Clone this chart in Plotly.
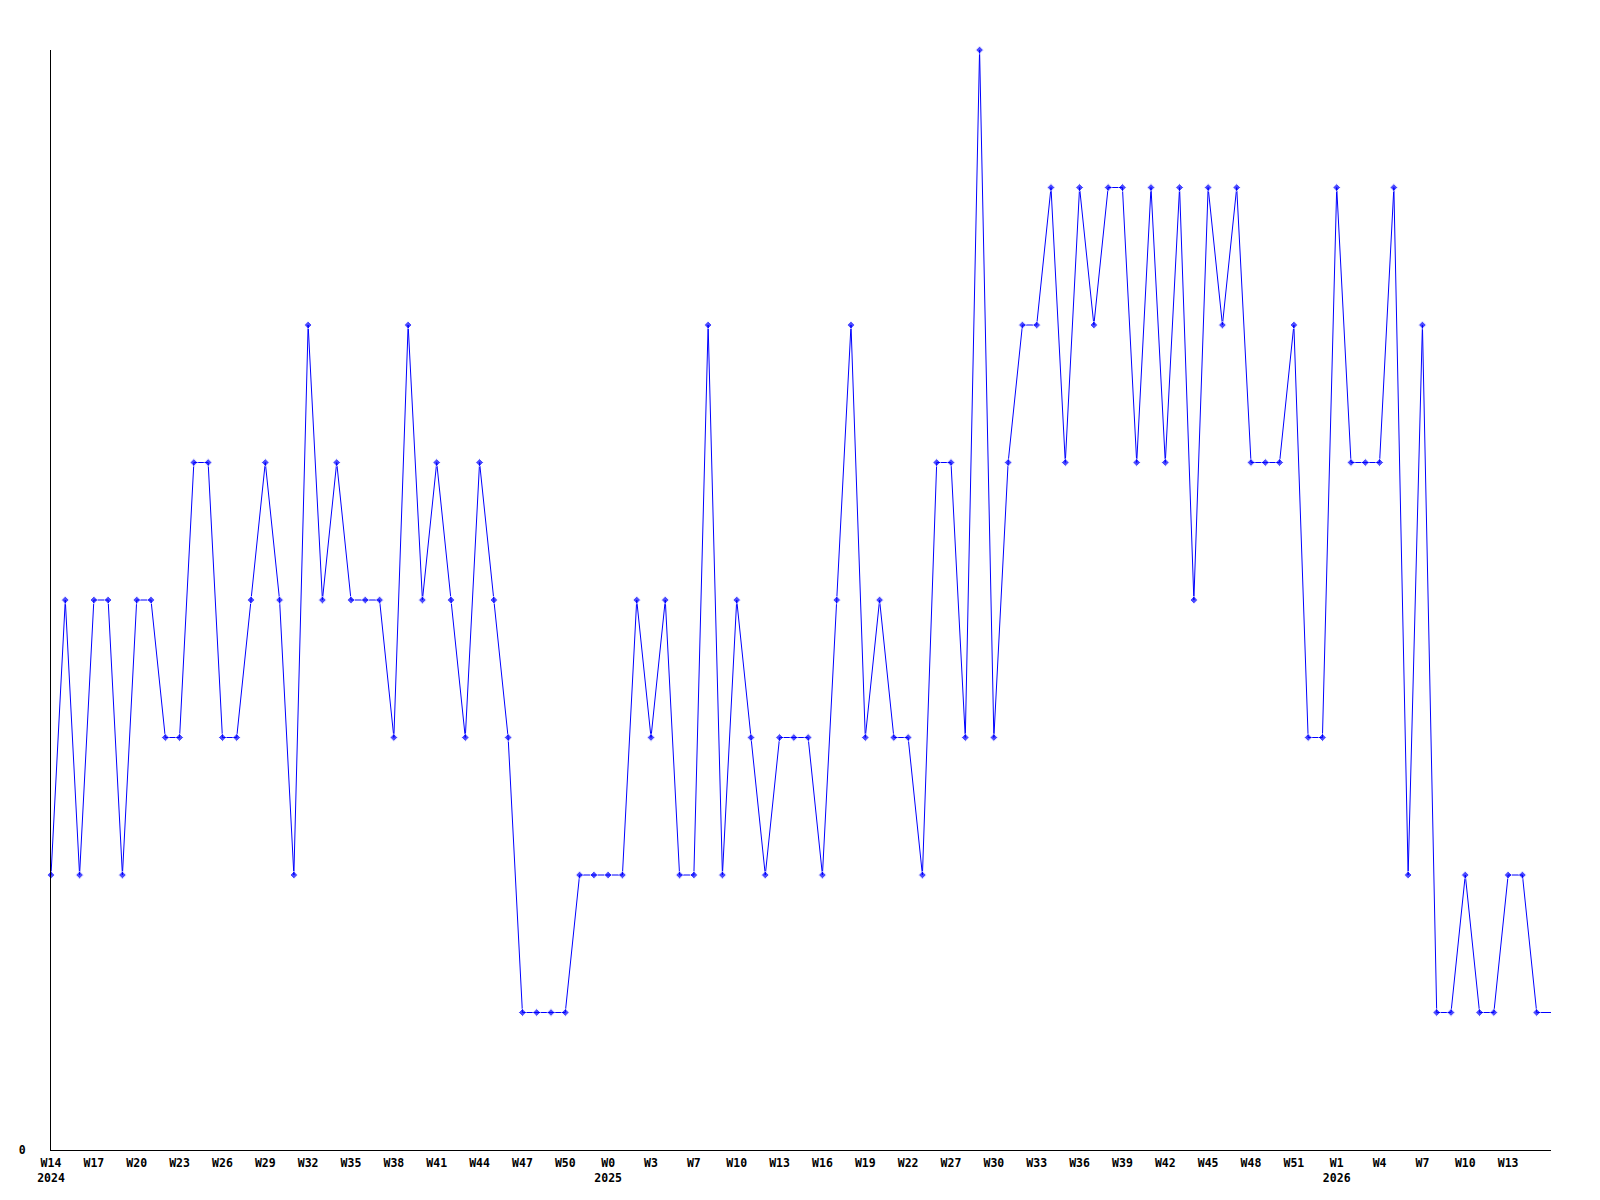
import plotly.graph_objects as go

# Weekly values (one per point, left to right)
values = [2, 4, 2, 4, 4, 2, 4, 4, 3, 3,
          5, 5, 3, 3, 4, 5, 4, 2, 6, 4,
          5, 4, 4, 4, 3, 6, 4, 5, 4, 3,
          5, 4, 3, 1, 1, 1, 1, 2, 2, 2,
          2, 4, 3, 4, 2, 2, 6, 2, 4, 3,
          2, 3, 3, 3, 2, 4, 6, 3, 4, 3,
          3, 2, 5, 5, 3, 8, 3, 5, 6, 6,
          7, 5, 7, 6, 7, 7, 5, 7, 5, 7,
          4, 7, 6, 7, 5, 5, 5, 6, 3, 3,
          7, 5, 5, 5, 7, 2, 6, 1, 1, 2,
          1, 1, 2, 2, 1, 1]

# Tick labels, one every third point
tick_labels = ["W14<br>2024", "W17", "W20", "W23", "W26", "W29", "W32", "W35",
               "W38", "W41", "W44", "W47", "W50", "W0<br>2025", "W3", "W7",
               "W10", "W13", "W16", "W19", "W22", "W27", "W30", "W33", "W36",
               "W39", "W42", "W45", "W48", "W51", "W1<br>2026", "W4", "W7",
               "W10", "W13"]

x = list(range(len(values)))
tick_pos = list(range(0, 3 * len(tick_labels), 3))
marker_sizes = [6] * (len(values) - 1) + [0]

fig = go.Figure()
fig.add_trace(go.Scatter(
    x=x, y=values, mode="lines+markers",
    line=dict(color="#0000ff", width=1),
    marker=dict(symbol="diamond", size=marker_sizes, color="#0000ff"),
    cliponaxis=False, showlegend=False,
))

font = dict(family="DejaVu Sans Mono", size=11.5, color="black", weight="bold")
fig.update_layout(
    width=1584, height=1184,
    margin=dict(l=43, r=41, t=42, b=42, autoexpand=False),
    paper_bgcolor="white", plot_bgcolor="white",
    xaxis=dict(range=[0, len(values) - 1], tickvals=tick_pos, ticktext=tick_labels,
               showgrid=False, zeroline=False, showline=True, linecolor="black",
               linewidth=1, ticks="", tickfont=font, tickangle=0,
               ticklabelstandoff=2, automargin=False),
    yaxis=dict(range=[0, 8], tickvals=[0], ticktext=["0"], showgrid=False,
               zeroline=False, showline=True, linecolor="black", linewidth=1,
               ticks="", tickfont=font, ticklabelstandoff=22, automargin=False),
)
fig.write_html("out.html")
